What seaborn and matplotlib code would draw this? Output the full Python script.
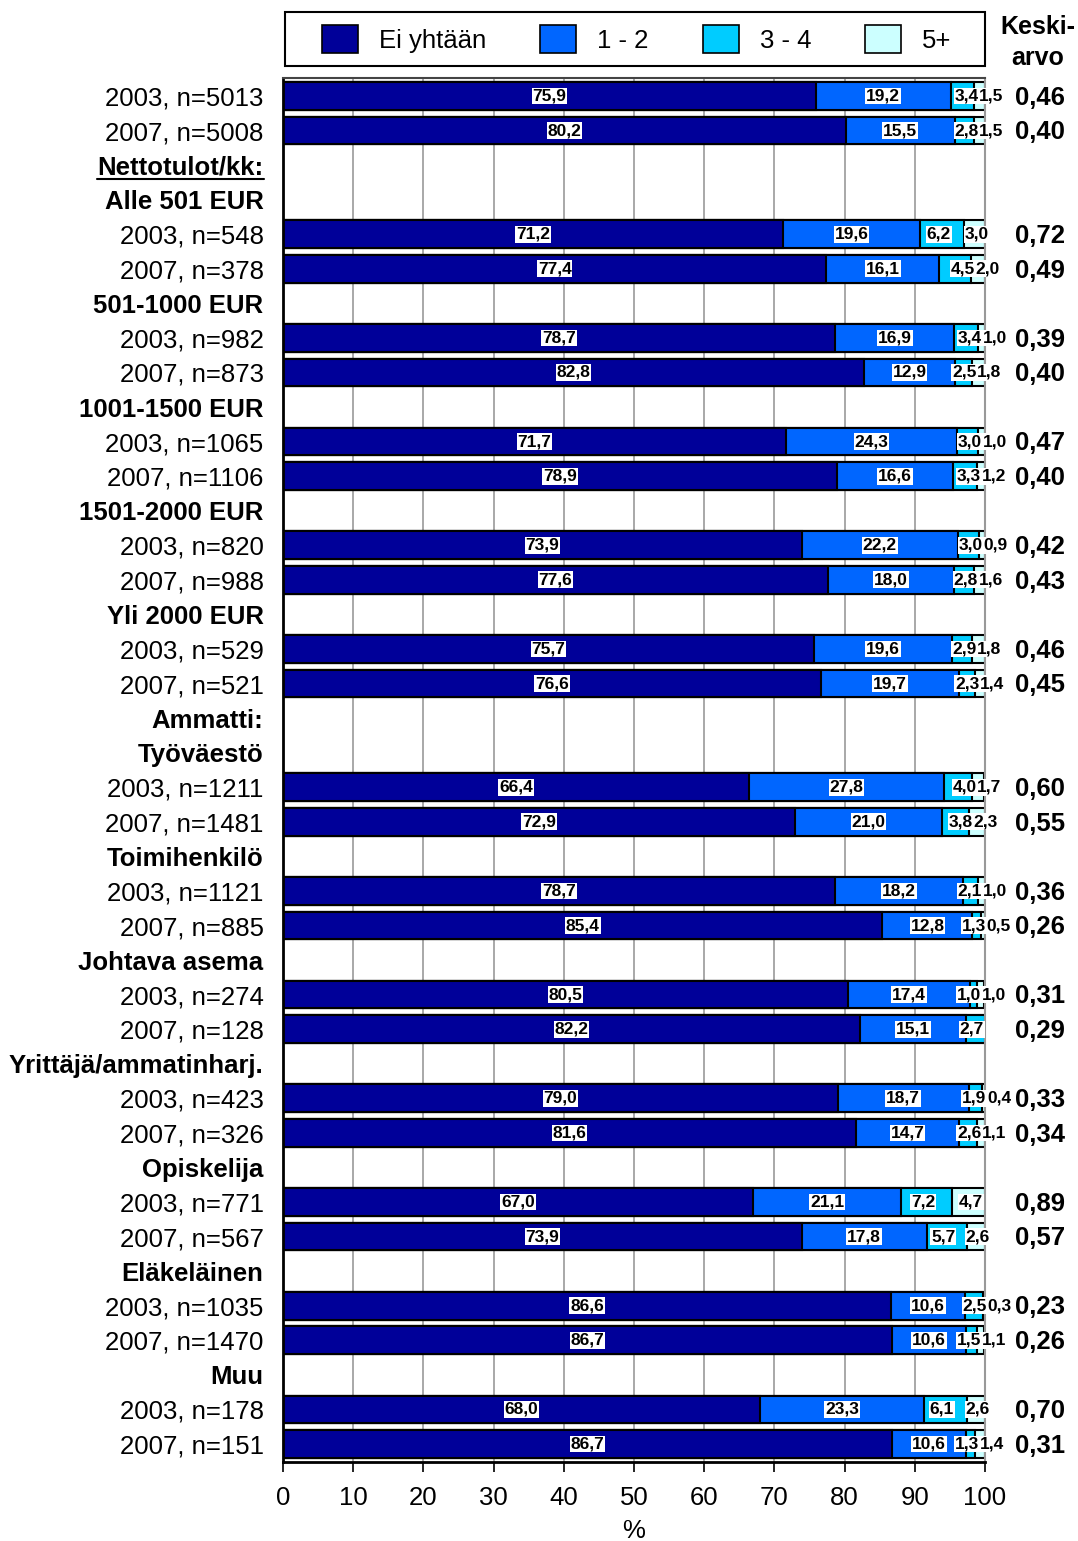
import matplotlib
matplotlib.use("Agg")
import matplotlib.pyplot as plt
from matplotlib.patches import Patch, Rectangle
from matplotlib.lines import Line2D
import pandas as pd
import seaborn as sns

# rows top to bottom: headers have no bar
row_labels = [
    "2003, n=5013", "2007, n=5008", "Nettotulot/kk:", "Alle 501 EUR",
    "2003, n=548", "2007, n=378", "501-1000 EUR", "2003, n=982", "2007, n=873",
    "1001-1500 EUR", "2003, n=1065", "2007, n=1106", "1501-2000 EUR",
    "2003, n=820", "2007, n=988", "Yli 2000 EUR", "2003, n=529", "2007, n=521",
    "Ammatti:", "Työväestö", "2003, n=1211", "2007, n=1481", "Toimihenkilö",
    "2003, n=1121", "2007, n=885", "Johtava asema", "2003, n=274", "2007, n=128",
    "Yrittäjä/ammatinharj.", "2003, n=423", "2007, n=326", "Opiskelija",
    "2003, n=771", "2007, n=567", "Eläkeläinen", "2003, n=1035", "2007, n=1470",
    "Muu", "2003, n=178", "2007, n=151",
]

categories = ["Ei yhtään", "1 - 2", "3 - 4", "5+"]
colors = ["#000099", "#0066FF", "#00CCFF", "#CCFFFF"]

ei_yhtaan = [75.9, 80.2, 71.2, 77.4, 78.7, 82.8, 71.7, 78.9, 73.9, 77.6, 75.7, 76.6,
             66.4, 72.9, 78.7, 85.4, 80.5, 82.2, 79.0, 81.6, 67.0, 73.9, 86.6, 86.7,
             68.0, 86.7]
yksi_kaksi = [19.2, 15.5, 19.6, 16.1, 16.9, 12.9, 24.3, 16.6, 22.2, 18.0, 19.6, 19.7,
              27.8, 21.0, 18.2, 12.8, 17.4, 15.1, 18.7, 14.7, 21.1, 17.8, 10.6, 10.6,
              23.3, 10.6]
kolme_nelja = [3.4, 2.8, 6.2, 4.5, 3.4, 2.5, 3.0, 3.3, 3.0, 2.8, 2.9, 2.3,
               4.0, 3.8, 2.1, 1.3, 1.0, 2.7, 1.9, 2.6, 7.2, 5.7, 2.5, 1.5,
               6.1, 1.3]
viisi_plus = [1.5, 1.5, 3.0, 2.0, 1.0, 1.8, 1.0, 1.2, 0.9, 1.6, 1.8, 1.4,
              1.7, 2.3, 1.0, 0.5, 1.0, 0.0, 0.4, 1.1, 4.7, 2.6, 0.3, 1.1,
              2.6, 1.4]
keskiarvo = ["0,46", "0,40", "0,72", "0,49", "0,39", "0,40", "0,47", "0,40", "0,42",
             "0,43", "0,46", "0,45", "0,60", "0,55", "0,36", "0,26", "0,31", "0,29",
             "0,33", "0,34", "0,89", "0,57", "0,23", "0,26", "0,70", "0,31"]

bar_rows = [i for i, l in enumerate(row_labels) if l.startswith("200")]

df = pd.DataFrame({"pos": bar_rows, "c1": ei_yhtaan, "c2": yksi_kaksi,
                   "c3": kolme_nelja, "c4": viisi_plus})
df["s1"] = df["c1"]
df["s2"] = df["s1"] + df["c2"]
df["s3"] = df["s2"] + df["c3"]
df["s4"] = df["s3"] + df["c4"]

sns.set_style("white")
plt.rcParams["font.family"] = ["Liberation Sans", "DejaVu Sans"]
plt.rcParams["text.color"] = "black"
plt.rcParams["axes.labelcolor"] = "black"
plt.rcParams["xtick.color"] = "black"
plt.rcParams["ytick.color"] = "black"

fig = plt.figure(figsize=(10.78, 15.41), dpi=100)
ax = fig.add_axes([0.2625, 0.0513, 0.6512, 0.8981])

ax.grid(axis="x", color="#999999", linewidth=1.2, zorder=0)
ax.set_axisbelow(True)

# stacked bars: draw cumulative totals largest first
for col, c in zip(["s4", "s3", "s2", "s1"], colors[::-1]):
    sns.barplot(data=df, x=col, y="pos", orient="h", native_scale=True,
                color=c, saturation=1, edgecolor="black", linewidth=1.5,
                width=0.8, ax=ax)

lab_font = dict(fontsize=12.5, fontweight="bold",
                bbox=dict(facecolor="white", edgecolor="none", pad=0.6),
                zorder=5, clip_on=False, va="center")


def fmt(v):
    return f"{v:.1f}".replace(".", ",")


# segment value labels
for _, r in df.iterrows():
    y = r["pos"]
    ax.text(r["c1"] / 2, y, fmt(r["c1"]), ha="center", **lab_font)
    ax.text(r["s1"] + r["c2"] / 2, y, fmt(r["c2"]), ha="center", **lab_font)
    if r["c4"] == 0 or r["c3"] >= 5:
        ax.text(r["s2"] + r["c3"] / 2 - 0.5, y, fmt(r["c3"]), ha="center", **lab_font)
    else:
        ax.text(r["s3"] + 0.6, y, fmt(r["c3"]), ha="right", **lab_font)
    if r["c4"] > 0:
        if r["c4"] >= 2.5:
            ax.text(r["s3"] + r["c4"] / 2 + 0.3, y, fmt(r["c4"]), ha="center", **lab_font)
        else:
            ax.text(r["s3"] + 0.7, y, fmt(r["c4"]), ha="left", **lab_font)

for p, m in zip(bar_rows, keskiarvo):
    ax.text(107.9, p + 0.05, m, ha="center", va="center", fontsize=18.5,
            fontweight="bold", clip_on=False)

fig.text(0.963, 1 - 27 / 1541, "Keski-", ha="center", va="center", fontsize=18,
         fontweight="bold")
fig.text(0.963, 1 - 58 / 1541, "arvo", ha="center", va="center", fontsize=18,
         fontweight="bold")

ax.set_xlim(0, 100)
ax.set_ylim(39.52, -0.52)
ax.set_xticks(range(0, 101, 10))
ax.set_xticklabels([str(t) for t in range(0, 101, 10)], fontsize=18.5)
ax.set_yticks(range(len(row_labels)))
ax.set_yticklabels(row_labels, fontsize=18.5)
for i, t in enumerate(ax.get_yticklabels()):
    if i not in bar_rows:
        t.set_fontweight("bold")
ax.tick_params(axis="y", length=0, pad=14)
ax.tick_params(axis="x", direction="out", length=7, width=1.2, color="black",
               bottom=True, pad=10)
ax.set_xlabel("%", fontsize=18.5, labelpad=7)
ax.set_ylabel("")

for side in ["left", "bottom"]:
    ax.spines[side].set_color("black")
    ax.spines[side].set_linewidth(2)
ax.spines["top"].set_color("#444444")
ax.spines["top"].set_linewidth(1.5)
ax.spines["right"].set_color("#999999")
ax.spines["right"].set_linewidth(1.5)

# legend box spanning the plot width
fig.add_artist(Rectangle((285 / 1078, 1 - 66 / 1541), 700 / 1078, 54 / 1541,
                         transform=fig.transFigure, facecolor="white",
                         edgecolor="black", linewidth=1.5))
handles = [Patch(facecolor=c, edgecolor="black", linewidth=1.2) for c in colors]
fig.legend(handles, categories, loc="center left",
           bbox_to_anchor=(322 / 1078, 1 - 39 / 1541), ncol=4, fontsize=18.5,
           frameon=False, handlelength=1.4, handleheight=1.32,
           handletextpad=0.82, columnspacing=2.1, borderpad=0, borderaxespad=0)

# underline "Nettotulot/kk:"
fig.canvas.draw()
lab = ax.get_yticklabels()[2]
bb = lab.get_window_extent()
fw, fh = fig.bbox.width, fig.bbox.height
fig.add_artist(Line2D([bb.x0 / fw, bb.x1 / fw], [(bb.y0 + 1) / fh, (bb.y0 + 1) / fh],
                      transform=fig.transFigure, color="black", linewidth=1.5))

fig.savefig("out.png", dpi=100)
